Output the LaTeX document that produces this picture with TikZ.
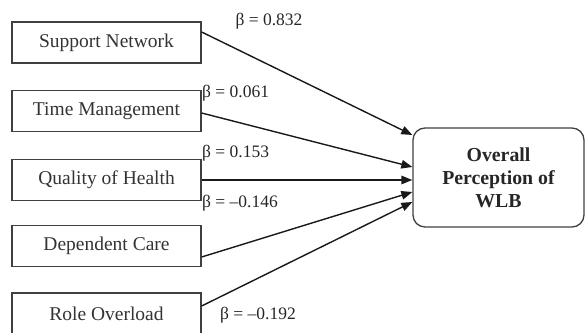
\documentclass[tikz,border=0pt]{standalone}
\usepackage{fontspec}
\setmainfont{Liberation Serif}
\usetikzlibrary{arrows.meta}
\begin{document}
\begin{tikzpicture}[x=1pt,y=-1pt,
  src/.style={draw=black!75, line width=1.3pt, minimum width=189pt, minimum height=41pt, inner sep=0pt, font=\fontsize{19.5}{22}\selectfont, text=black!80},
  tgt/.style={draw=black!75, line width=1.3pt, rounded corners=12pt, minimum width=171pt, minimum height=99pt, inner sep=0pt, align=center, font=\fontsize{19.8}{23}\selectfont\bfseries, text=black!85},
  link/.style={line width=1.4pt, draw=black!90, -{Triangle[length=11pt,width=8.5pt]}},
  coef/.style={font=\fontsize{17.5}{20}\selectfont, inner sep=0pt, text=black!85}]
\useasboundingbox (0,0) rectangle (585,332);
\node[src] (sn) at (106.5,42.5) {Support Network};
\node[src] (tm) at (106.5,111) {Time Management};
\node[src] (qh) at (106.5,180) {Quality of Health};
\node[src] (dc) at (106.5,246) {Dependent Care};
\node[src] (ro) at (106.5,313.5) {Role Overload};
\node[tgt] (wlb) at (498.5,177.5) {Overall\\Perception of\\WLB};
\draw[link] ([yshift=10.5pt]sn.east) -- ([yshift=42.5pt]wlb.west);
\draw[link] ([yshift=-2pt]tm.east) -- ([yshift=10.5pt]wlb.west);
\draw[link] (qh.east) -- ([yshift=-2.5pt]wlb.west);
\draw[link] ([yshift=-11pt]dc.east) -- ([yshift=-14.5pt]wlb.west);
\draw[link] ([yshift=7.5pt]ro.east) -- ([yshift=-24.5pt]wlb.west);
\node[coef] (b1) at (269,21) {β = 0.832};
\node[coef, anchor=west] (b2) at (202,93) {β = 0.061};
\node[coef, anchor=west] (b3) at (202,153) {β = 0.153};
\node[coef, anchor=west] (b4) at (202,203) {β = –0.146};
\node[coef, anchor=west] (b5) at (220,315) {β = –0.192};
\end{tikzpicture}
\end{document}
